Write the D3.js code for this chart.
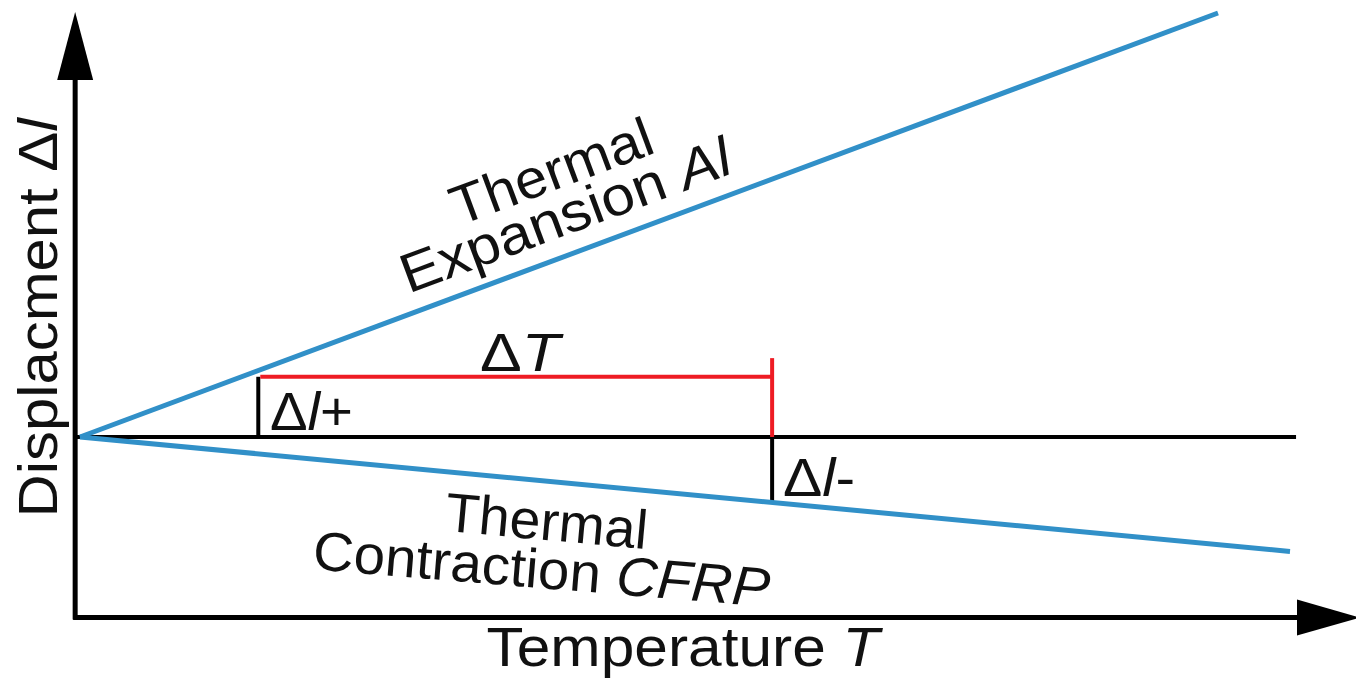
<!DOCTYPE html>
<html><head><meta charset="utf-8">
<script src="https://cdn.jsdelivr.net/npm/d3@7"></script>
<style>html,body{margin:0;padding:0;background:#fff;}svg{display:block;}</style>
</head><body>
<svg id="c" width="1356" height="683"></svg>
<script>
// Data (schematic): temperature T (0..100), displacement Δl
const tempDomain = [0, 100];
const dispDomain = [-21.3, 50];
const expansionAl = [[0, 0], [94.05, 50]];      // Thermal expansion Al
const contractionCFRP = [[0, 0], [100, -13.5]]; // Thermal contraction CFRP
const baseline = [[-0.4, 0], [100.5, 0]];
const deltaT = {t0: 14.9, t1: 57.2, disp: 7.1, top: 9.3};
const axisOrigin = {t: -0.4, disp: -21.3};

const svg = d3.select("#c");
const x = d3.scaleLinear().domain(tempDomain).range([80, 1290]);
const y = d3.scaleLinear().domain(dispDomain).range([617.6, 13]);
const line = d3.line().x(d => x(d[0])).y(d => y(d[1]));

const blue = "#3190c8", red = "#ee1c24";
const font = "'Liberation Sans', Arial, sans-serif";

// axes
const ax0 = x(axisOrigin.t), ay0 = y(axisOrigin.disp);
svg.append("line").attr("x1", ax0).attr("y1", ay0 + 2).attr("x2", ax0).attr("y2", 78)
  .attr("stroke", "#000").attr("stroke-width", 5);
svg.append("path").attr("d", `M${ax0},12 L${ax0-18},80 L${ax0+18},80 Z`).attr("fill", "#000");
svg.append("line").attr("x1", ax0 - 2).attr("y1", ay0).attr("x2", 1300).attr("y2", ay0)
  .attr("stroke", "#000").attr("stroke-width", 5);
svg.append("path").attr("d", `M1360,${ay0} L1297,${ay0-18} L1297,${ay0+18} Z`).attr("fill", "#000");

// baseline
svg.append("path").attr("d", line(baseline)).attr("stroke", "#000").attr("stroke-width", 4).attr("fill", "none");

// black verticals Δl+ and Δl-
const lowerAt = t => contractionCFRP[1][1] * t / contractionCFRP[1][0];
svg.append("line").attr("x1", x(deltaT.t0) - 2).attr("x2", x(deltaT.t0) - 2)
  .attr("y1", y(deltaT.disp)).attr("y2", y(0) - 1).attr("stroke", "#000").attr("stroke-width", 4);
svg.append("line").attr("x1", x(deltaT.t1)).attr("x2", x(deltaT.t1))
  .attr("y1", y(0)).attr("y2", y(lowerAt(deltaT.t1))).attr("stroke", "#000").attr("stroke-width", 4);

// red ΔT
svg.append("line").attr("x1", x(deltaT.t0)).attr("x2", x(deltaT.t1))
  .attr("y1", y(deltaT.disp)).attr("y2", y(deltaT.disp)).attr("stroke", red).attr("stroke-width", 4);
svg.append("line").attr("x1", x(deltaT.t1)).attr("x2", x(deltaT.t1))
  .attr("y1", y(deltaT.top)).attr("y2", y(0)).attr("stroke", red).attr("stroke-width", 4);

// blue lines
svg.append("path").attr("d", line(expansionAl)).attr("stroke", blue).attr("stroke-width", 5).attr("fill", "none");
svg.append("path").attr("d", line(contractionCFRP)).attr("stroke", blue).attr("stroke-width", 5).attr("fill", "none");

// text helper: parts = [[text, italic]]
function label(parts, cx, cy, rot, size, len, anchor) {
  const t = svg.append("text")
    .attr("transform", `translate(${cx},${cy}) rotate(${rot})`)
    .attr("text-anchor", anchor || "middle")
    .attr("font-family", font).attr("font-size", size).attr("fill", "#111");
  if (len) t.attr("textLength", len).attr("lengthAdjust", "spacingAndGlyphs");
  parts.forEach(p => t.append("tspan").text(p[0]).attr("font-style", p[1] ? "italic" : "normal"));
  return t;
}

label([["Temperature ", 0], ["T", 1]], 683, 666, 0, 55, 393);
label([["Displacment ", 0], ["Δ", 0], ["l", 1]], 57, 318, -90, 55, 399);
label([["Thermal", 0]], 558, 189, -20.4, 55, 212);
label([["Expansion ", 0], ["Al", 1]], 572, 233, -20.4, 55, 349);
label([["Thermal", 0]], 545, 540, 5.2, 55, 203);
label([["Contraction ", 0], ["CFRP", 1]], 540, 588, 4.7, 55, 458);
label([["Δ", 0], ["T", 1]], 480, 371, 0, 54, 80, "start");
label([["Δ", 0], ["l", 1], ["+", 0]], 270, 430, 0, 53, 83, "start");
label([["Δ", 0], ["l", 1], ["-", 0]], 783, 496, 0, 53, 72, "start");
</script>
</body></html>
